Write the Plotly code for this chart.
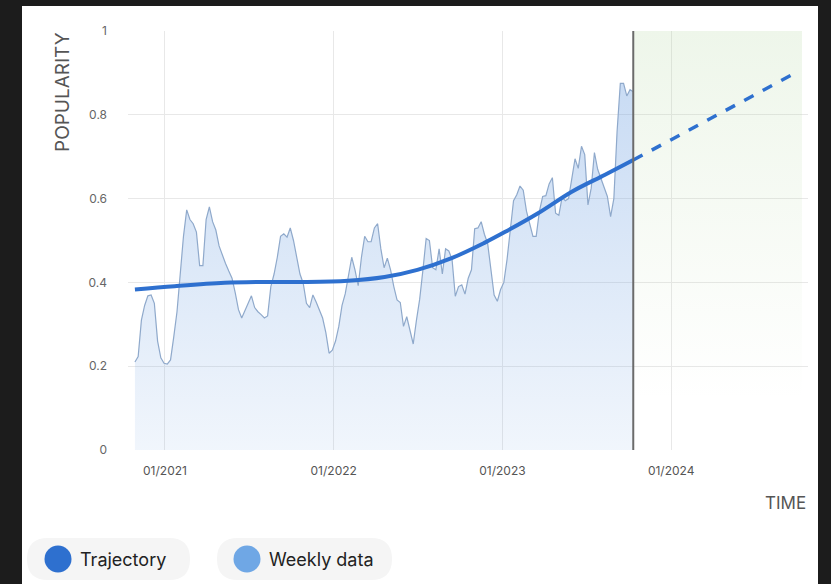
import pandas as pd
import plotly.graph_objects as go

# ---------------- data ----------------
weekly_start = "2020-10-28"
weekly_values = [
    0.21, 0.223, 0.31, 0.345, 0.368, 0.370, 0.350, 0.26, 0.22, 0.207,
    0.205, 0.215, 0.27, 0.33, 0.42, 0.51, 0.573, 0.55, 0.54, 0.52,
    0.44, 0.44, 0.55, 0.58, 0.545, 0.525, 0.487, 0.465, 0.445, 0.427,
    0.41, 0.375, 0.335, 0.315, 0.333, 0.352, 0.368, 0.34, 0.33, 0.323,
    0.315, 0.32, 0.39, 0.42, 0.46, 0.51, 0.516, 0.508, 0.53, 0.50,
    0.46, 0.42, 0.398, 0.35, 0.34, 0.37, 0.353, 0.335, 0.315, 0.28,
    0.231, 0.238, 0.26, 0.295, 0.345, 0.373, 0.415, 0.46, 0.43, 0.392,
    0.46, 0.51, 0.497, 0.497, 0.53, 0.54, 0.48, 0.435, 0.458, 0.43,
    0.39, 0.358, 0.352, 0.295, 0.318, 0.288, 0.253, 0.31, 0.36, 0.43,
    0.505, 0.50, 0.435, 0.43, 0.48, 0.42, 0.48, 0.475, 0.455, 0.367,
    0.39, 0.394, 0.372, 0.41, 0.43, 0.528, 0.53, 0.545, 0.515, 0.493,
    0.43, 0.37, 0.355, 0.383, 0.40, 0.455, 0.525, 0.595, 0.609, 0.63,
    0.62, 0.57, 0.54, 0.51, 0.51, 0.57, 0.605, 0.607, 0.635, 0.65,
    0.565, 0.56, 0.603, 0.595, 0.60, 0.65, 0.695, 0.672, 0.725, 0.705,
    0.585, 0.625, 0.71, 0.67, 0.648, 0.625, 0.605, 0.557, 0.60, 0.76,
    0.875, 0.875, 0.845, 0.86, 0.855,
]

traj_dates = ["2020-10-28", "2021-01-22", "2021-05-10", "2021-08-05", "2021-10-24",
              "2022-02-01", "2022-04-21", "2022-07-01", "2022-09-13", "2022-11-24",
              "2023-01-06", "2023-03-19", "2023-06-01", "2023-08-11", "2023-10-11"]
traj_values = [0.383, 0.391, 0.399, 0.401, 0.401,
               0.404, 0.413, 0.430, 0.458, 0.495,
               0.520, 0.565, 0.617, 0.657, 0.692]

forecast_dates = ["2023-10-11", "2024-10-01"]
forecast_values = [0.692, 0.903]

forecast_zone = ["2023-10-11", "2024-10-10"]
x_range = ["2020-10-13", "2024-10-23"]

year_ticks = ["2021-01-01", "2022-01-01", "2023-01-01", "2024-01-01"]
year_labels = ["01/2021", "01/2022", "01/2023", "01/2024"]
y_ticks = [0, 0.2, 0.4, 0.6, 0.8, 1]
y_labels = ["0", "0.2", "0.4", "0.6", "0.8", "1"]

legend_names = ["Trajectory", "Weekly data"]
legend_colors = ["#2e70cf", "#6fa7e5"]

# ---------------- layout helpers ----------------
W, H = 831, 584
ML, MR, MT, MB = 128, 23, 31, 134
PW, PH = W - ML - MR, H - MT - MB


def px(x):
    return (x - ML) / PW


def py(y):
    return (H - MB - y) / PH


FONT = "Inter, Open Sans, sans-serif"
weekly_dates = pd.date_range(start=weekly_start, periods=len(weekly_values), freq="7D")

fig = go.Figure()

# forecast zone (soft green fading downward)
fig.add_trace(go.Scatter(
    x=forecast_zone, y=[1, 1], mode="lines", line=dict(width=0),
    fill="tozeroy",
    fillgradient=dict(type="vertical", start=0.12, stop=1,
                      colorscale=[[0, "rgba(170,210,150,0.0)"], [1, "rgba(170,210,150,0.2)"]]),
    hoverinfo="skip", showlegend=False))

# weekly data area
fig.add_trace(go.Scatter(
    x=weekly_dates, y=weekly_values, mode="lines",
    line=dict(color="#8fa9cb", width=1.2),
    fill="tozeroy",
    fillgradient=dict(type="vertical", start=0, stop=0.9,
                      colorscale=[[0, "rgba(110,160,225,0.10)"], [1, "rgba(110,160,225,0.38)"]]),
    name="Weekly data", showlegend=False))

# trajectory
fig.add_trace(go.Scatter(
    x=traj_dates, y=traj_values, mode="lines",
    line=dict(color=legend_colors[0], width=4, shape="spline", smoothing=1.0),
    name="Trajectory", showlegend=False))
fig.add_trace(go.Scatter(
    x=forecast_dates, y=forecast_values, mode="lines",
    line=dict(color=legend_colors[0], width=3.5, dash="dash"),
    showlegend=False))

shapes = [
    # white panel
    dict(type="rect", xref="paper", yref="paper", x0=px(22), x1=px(818), y0=py(6), y1=py(590),
         fillcolor="white", line=dict(width=0), layer="below"),
    # now line
    dict(type="line", xref="x", yref="y", x0=forecast_zone[0], x1=forecast_zone[0], y0=0, y1=1,
         line=dict(color="#6b6b6b", width=2), layer="above"),
]

annotations = [
    dict(text="POPULARITY", xref="paper", yref="paper", x=px(62), y=py(92), textangle=-90,
         showarrow=False, xanchor="center", yanchor="middle",
         font=dict(family=FONT, size=19, color="#555555")),
    dict(text="TIME", xref="paper", yref="paper", x=px(785), y=py(503), showarrow=False,
         xanchor="center", yanchor="middle", font=dict(family=FONT, size=17, color="#555555")),
]

# custom legend pills
pills = [(27, 190, 58), (217, 392, 247)]
for (x0, x1, cx), name, col in zip(pills, legend_names, legend_colors):
    y0, y1 = 538, 580
    r = (y1 - y0) / 2
    X0, X1 = px(x0), px(x1)
    path = (f"M {px(x0 + r)} {py(y0)} L {px(x1 - r)} {py(y0)} "
            f"Q {X1} {py(y0)} {X1} {py(y0 + r)} Q {X1} {py(y1)} {px(x1 - r)} {py(y1)} "
            f"L {px(x0 + r)} {py(y1)} Q {X0} {py(y1)} {X0} {py(y0 + r)} "
            f"Q {X0} {py(y0)} {px(x0 + r)} {py(y0)} Z")
    shapes.append(dict(type="path", xref="paper", yref="paper", path=path,
                       fillcolor="#f5f5f5", line=dict(width=0), layer="below"))
    shapes.append(dict(type="circle", xref="paper", yref="paper",
                       x0=px(cx - 13.5), x1=px(cx + 13.5), y0=py(559 + 13.5), y1=py(559 - 13.5),
                       fillcolor=col, line=dict(width=0), layer="above"))
    annotations.append(dict(text=name, xref="paper", yref="paper", x=px(cx + 20), y=py(559),
                            xanchor="left", yanchor="middle", showarrow=False,
                            font=dict(family=FONT, size=18, color="#222222")))

fig.update_layout(
    width=W, height=H,
    margin=dict(l=ML, r=MR, t=MT, b=MB),
    paper_bgcolor="#1c1c1c", plot_bgcolor="white",
    shapes=shapes, annotations=annotations,
    showlegend=False,
    xaxis=dict(range=x_range, tickvals=year_ticks, ticktext=year_labels,
               showgrid=True, gridcolor="#e8e8e8", gridwidth=1, zeroline=False,
               showline=False, ticks="", ticklabelstandoff=12,
               tickfont=dict(family=FONT, size=12, color="#555555"), fixedrange=True),
    yaxis=dict(range=[0, 1], tickvals=y_ticks, ticktext=y_labels,
               showgrid=True, gridcolor="#e8e8e8", gridwidth=1, zeroline=False,
               showline=False, ticks="", ticklabelstandoff=20,
               tickfont=dict(family=FONT, size=12, color="#666666"), fixedrange=True),
)

fig.write_html("out.html")
